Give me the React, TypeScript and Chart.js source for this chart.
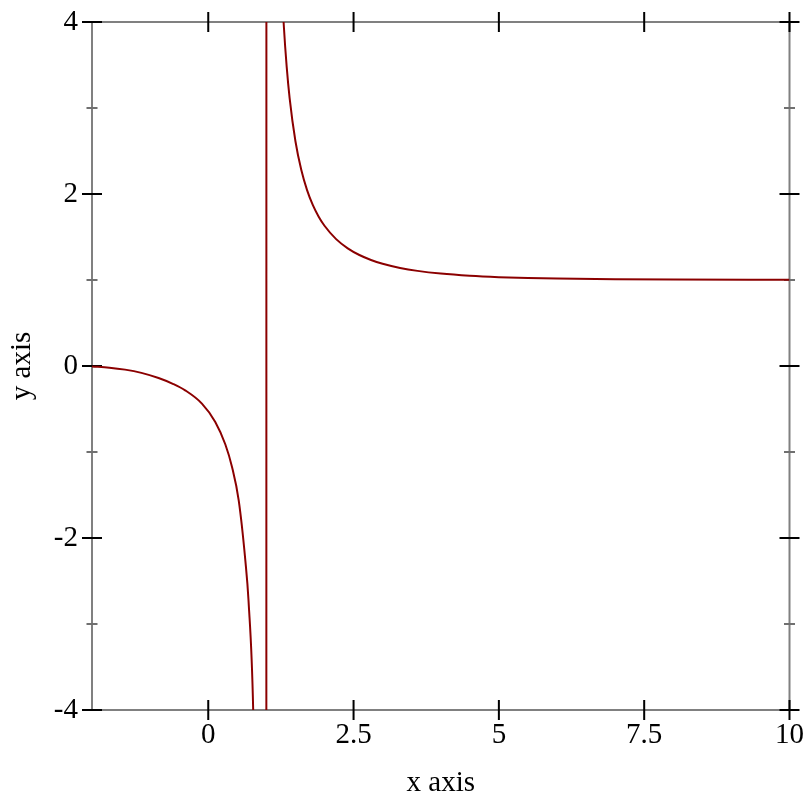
import React, { useEffect, useRef } from 'react';
import { Chart, registerables } from 'chart.js';

Chart.register(...registerables);

// Curve samples: left branch, the jump across x = 1, right branch
const xValues = [
  -2.0, -1.7, -1.431, -1.15, -0.855, -0.6, -0.397, -0.109, 0.121, 0.293, 0.409, 0.524, 0.638, 0.693, 0.773, 0.85, 0.93, 0.99,
  1.01, 1.05, 1.1, 1.15, 1.2, 1.25, 1.3, 1.35, 1.4, 1.5, 1.6, 1.7, 1.8, 1.9, 2.0, 2.2, 2.4, 2.6, 2.8, 3.0, 3.3, 3.6, 4.0, 4.5,
  5.0, 5.5, 6.0, 7.0, 8.0, 10.0,
];
const yValues = [
  -0.006, -0.019, -0.042, -0.08, -0.14, -0.21, -0.283, -0.437, -0.65, -0.91, -1.174, -1.562, -2.26, -2.73, -4.0, -7.39, -15.4, -100,
  100, 20.96, 10.74, 7.35, 5.65, 4.634, 3.957, 3.475, 3.115, 2.613, 2.281, 2.045, 1.87, 1.736, 1.6306, 1.4751, 1.368, 1.2905,
  1.2329, 1.1888, 1.1403, 1.106, 1.0744, 1.0491, 1.0331, 1.0228, 1.016, 1.0083, 1.0046, 1.0017,
];

const xTickValues = [0, 2.5, 5, 7.5, 10];
const xTickLabels = ['0', '2.5', '5', '7.5', '10'];
const yTickValues = [-4, -2, 0, 2, 4];
const yTickLabels = ['-4', '-2', '0', '2', '4'];
const yMinorValues = [-3, -1, 1, 3];

const xTitle = 'x axis';
const yTitle = 'y axis';

const FONT = '"Liberation Serif", "Times New Roman", serif';
const FONT_SIZE = 29;
const LINE_COLOR = 'rgb(139,0,0)';
const FRAME_COLOR = '#808080';
const MINOR_COLOR = '#707070';

const framePlugin = {
  id: 'racketFrame',
  beforeDatasetsDraw(chart: any) {
    const ctx = chart.ctx;
    const { left, right, top, bottom } = chart.chartArea;
    const xs = chart.scales.x;
    const ys = chart.scales.y;
    ctx.save();
    ctx.lineWidth = 2;
    ctx.strokeStyle = FRAME_COLOR;
    ctx.strokeRect(left, top, right - left, bottom - top);

    // minor y ticks
    ctx.strokeStyle = MINOR_COLOR;
    ctx.beginPath();
    for (const v of yMinorValues) {
      const py = ys.getPixelForValue(v);
      ctx.moveTo(left - 5.5, py);
      ctx.lineTo(left + 5.5, py);
      ctx.moveTo(right - 5.5, py);
      ctx.lineTo(right + 5.5, py);
    }
    ctx.stroke();

    // major ticks
    ctx.strokeStyle = '#000';
    ctx.beginPath();
    for (const v of xTickValues) {
      const px = xs.getPixelForValue(v);
      ctx.moveTo(px, bottom - 10);
      ctx.lineTo(px, bottom + 10);
      ctx.moveTo(px, top - 10);
      ctx.lineTo(px, top + 10);
    }
    for (const v of yTickValues) {
      const py = ys.getPixelForValue(v);
      ctx.moveTo(left - 10, py);
      ctx.lineTo(left + 10, py);
      ctx.moveTo(right - 10, py);
      ctx.lineTo(right + 10, py);
    }
    ctx.stroke();

    // axis titles
    ctx.fillStyle = '#000';
    ctx.font = `${FONT_SIZE}px ${FONT}`;
    ctx.textAlign = 'center';
    ctx.textBaseline = 'middle';
    ctx.fillText(xTitle, (left + right) / 2, 783);
    ctx.translate(22, (top + bottom) / 2);
    ctx.rotate(-Math.PI / 2);
    ctx.fillText(yTitle, 0, 0);
    ctx.restore();
  },
};

export default function App() {
  const canvasRef = useRef<HTMLCanvasElement | null>(null);

  useEffect(() => {
    document.body.style.margin = '0';
    const canvas = canvasRef.current;
    if (!canvas) return;
    const points = xValues.map((x, i) => ({ x, y: yValues[i] }));
    const chart = new Chart(canvas, {
      type: 'line',
      data: {
        datasets: [
          {
            data: points,
            borderColor: LINE_COLOR,
            borderWidth: 2,
            pointRadius: 0,
            fill: false,
            cubicInterpolationMode: 'monotone',
            clip: 0,
          } as any,
        ],
      },
      options: {
        responsive: false,
        animation: false,
        devicePixelRatio: 1,
        layout: { padding: { left: 0, right: 22, top: 22, bottom: 0 } },
        plugins: { legend: { display: false }, tooltip: { enabled: false } },
        scales: {
          x: {
            type: 'linear',
            min: -2,
            max: 10,
            grid: { display: false, drawTicks: false },
            border: { display: false },
            afterBuildTicks: (s: any) => {
              s.ticks = xTickValues.map((v) => ({ value: v }));
            },
            afterFit: (s: any) => {
              s.height = 102;
            },
            ticks: {
              autoSkip: false,
              maxRotation: 0,
              padding: 8,
              color: '#000',
              font: { family: FONT, size: FONT_SIZE, lineHeight: 1.2 },
              callback: (_v: any, i: number) => xTickLabels[i],
            },
          },
          y: {
            type: 'linear',
            min: -4,
            max: 4,
            grid: { display: false, drawTicks: false },
            border: { display: false },
            afterBuildTicks: (s: any) => {
              s.ticks = yTickValues.map((v) => ({ value: v }));
            },
            afterFit: (s: any) => {
              s.width = 92;
            },
            ticks: {
              autoSkip: false,
              padding: 14,
              color: '#000',
              font: { family: FONT, size: FONT_SIZE, lineHeight: 0.5 },
              callback: (_v: any, i: number) => yTickLabels[i],
            },
          },
        },
      },
      plugins: [framePlugin],
    });
    return () => chart.destroy();
  }, []);

  return (
    <div style={{ width: 812, height: 812 }}>
      <canvas ref={canvasRef} width={812} height={812} style={{ display: 'block' }} />
    </div>
  );
}
